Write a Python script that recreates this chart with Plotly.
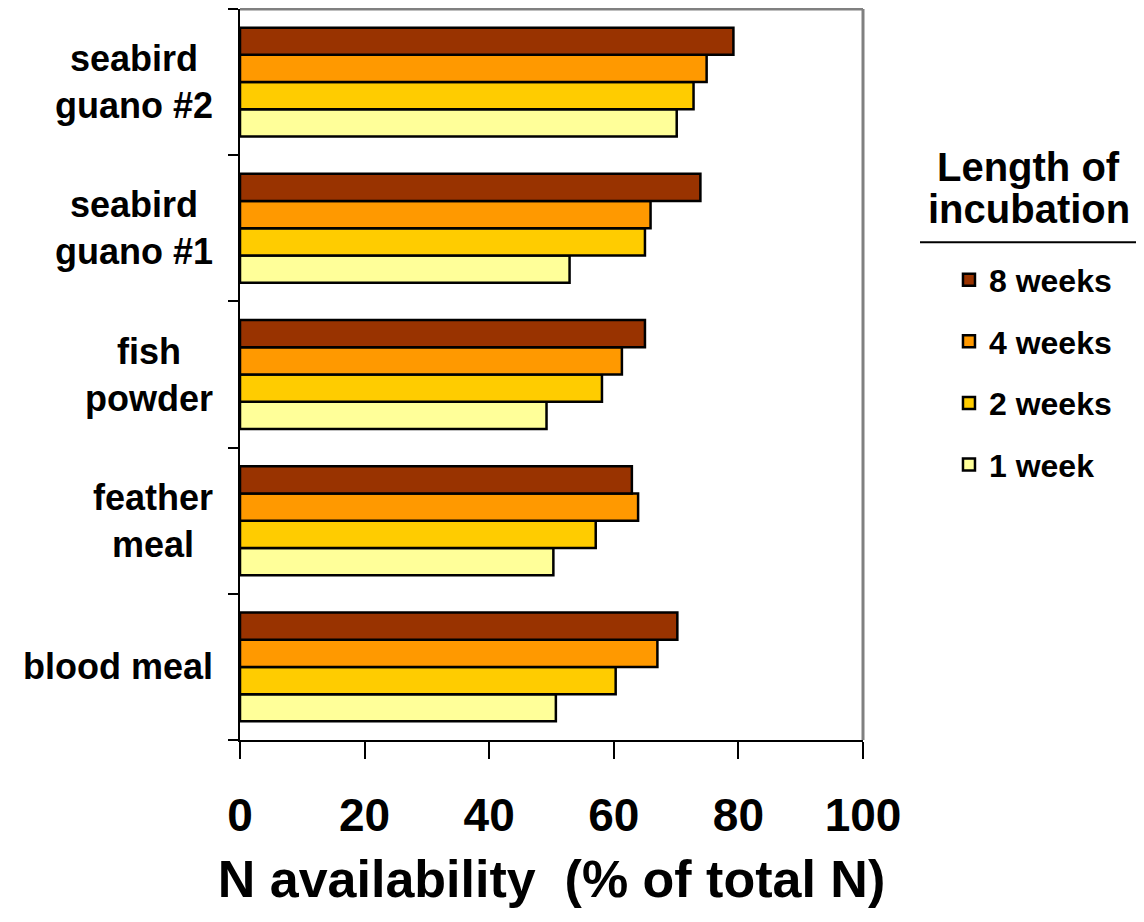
import plotly.graph_objects as go

categories = ["blood meal", "feather meal", "fish powder", "seabird guano #1", "seabird guano #2"]
category_labels = ["blood meal", "feather<br>meal", "fish<br>powder", "seabird<br>guano #1", "seabird<br>guano #2"]

series_names = ["1 week", "2 weeks", "4 weeks", "8 weeks"]
week1 = [50.7, 50.3, 49.2, 52.9, 70.1]
week2 = [60.3, 57.1, 58.1, 65.0, 72.8]
week4 = [67.0, 63.9, 61.3, 65.9, 74.9]
week8 = [70.2, 62.9, 65.0, 73.9, 79.2]
series_values = [week1, week2, week4, week8]
series_colors = ["#FFFF99", "#FFCC00", "#FF9900", "#993300"]
legend_ranks = [4, 3, 2, 1]

x_ticks = [0, 20, 40, 60, 80, 100]

FONT = "Liberation Sans, Arial, sans-serif"

fig = go.Figure()
for name, vals, col, rk in zip(series_names, series_values, series_colors, legend_ranks):
    fig.add_trace(go.Bar(
        y=categories, x=vals, orientation="h", name="<b>" + name + "</b>",
        legendgroup=name, legendrank=rk,
        marker=dict(color=col, line=dict(color="black", width=2.5)),
    ))

annotations = []
for i, lab in enumerate(category_labels):
    annotations.append(dict(
        x=-0.04, xref="paper", y=i, yref="y", text="<b>" + lab + "</b>",
        showarrow=False, xanchor="right", yanchor="middle", align="center",
        font=dict(family=FONT, size=36, color="black"),
    ))
annotations.append(dict(
    x=1.266, xref="paper", y=0.7845, yref="paper", text="<b>Length of</b>",
    showarrow=False, xanchor="center", yanchor="middle",
    font=dict(family=FONT, size=40, color="black"),
))
annotations.append(dict(
    x=1.266, xref="paper", y=0.726, yref="paper", text="<b>incubation</b>",
    showarrow=False, xanchor="center", yanchor="middle",
    font=dict(family=FONT, size=40, color="black"),
))

shapes = [
    dict(type="line", xref="paper", yref="paper", x0=0, x1=1, y0=1, y1=1,
         line=dict(color="#808080", width=3)),
    dict(type="line", xref="paper", yref="paper", x0=1, x1=1, y0=0, y1=1,
         line=dict(color="#808080", width=3)),
    dict(type="line", xref="paper", yref="paper", x0=1.0915, x1=1.451, y0=0.681, y1=0.681,
         line=dict(color="black", width=2)),
]

fig.update_layout(
    width=1136, height=914, autosize=False,
    margin=dict(l=232, r=281, t=1, b=182, pad=0),
    paper_bgcolor="white", plot_bgcolor="white",
    barmode="group", bargap=0.255, bargroupgap=0,
    font=dict(family=FONT, color="black"),
    xaxis=dict(
        range=[0, 100], tickvals=x_ticks, ticktext=[f"<b>{v}</b>" for v in x_ticks],
        ticks="outside", ticklen=17, tickwidth=1.5, tickcolor="black",
        showline=True, linecolor="black", linewidth=2,
        showgrid=False, zeroline=False,
        tickfont=dict(family=FONT, size=46, color="black"),
        ticklabelstandoff=17,
        title=dict(text="<b>N availability\u00a0 (% of total N)</b>",
                   font=dict(family=FONT, size=52, color="black"), standoff=20),
    ),
    yaxis=dict(
        categoryorder="array", categoryarray=categories,
        ticks="outside", ticklen=10, tickwidth=1.5, tickcolor="black",
        tickson="boundaries", showticklabels=False,
        showline=True, linecolor="black", linewidth=2,
        showgrid=False, zeroline=False,
    ),
    legend=dict(
        x=1.138, xanchor="left", y=0.667, yanchor="top",
        traceorder="grouped", tracegroupgap=17,
        font=dict(family=FONT, size=32, color="black"),
        bgcolor="rgba(0,0,0,0)", borderwidth=0,
    ),
    annotations=annotations,
    shapes=shapes,
)

fig.write_html("out.html")
